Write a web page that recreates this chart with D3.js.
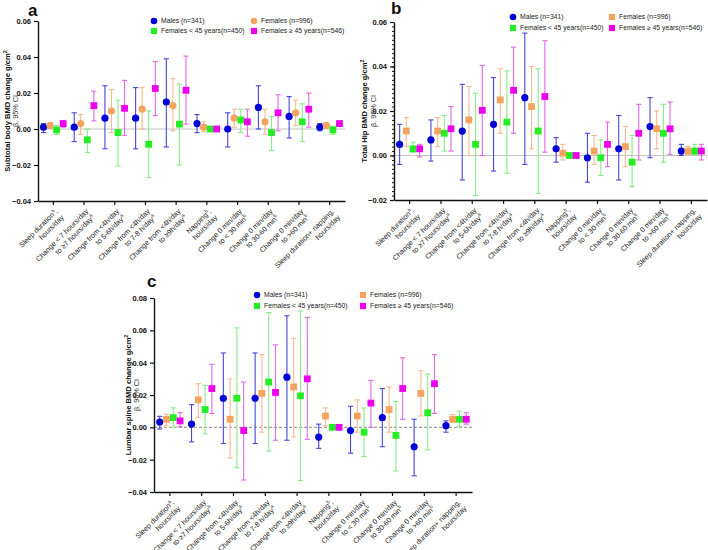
<!DOCTYPE html>
<html>
<head>
<meta charset="utf-8">
<script src="https://cdn.jsdelivr.net/npm/d3@7"></script>
<style>
  body { margin: 0; background: #fff; }
  svg { font-family: "Liberation Sans", Arial, sans-serif; }
</style>
</head>
<body>
<svg id="chart" width="708" height="550"></svg>
<script>
// tick labels, two lines each (^a / ^b = superscript)
var tickLine1 = ["Sleep duration^a,", "Change < 7 hours/day", "Change from <4h/day", "Change from <4h/day",
  "Change from <4h/day", "Napping^b,", "Change 0 min/day", "Change 0 min/day", "Change 0 min/day",
  "Sleep duration+ napping,"];
var tickLine2 = ["hours/day", "to \u22657 hours/day^a", "to 5-6h/day^a", "to 7-8 h/day^a", "to \u22659h/day^a",
  "hours/day", "to < 30 min^b", "to 30-60 min^b", "to >60 min^b", "hours/day"];

var seriesNames = ["Males (n=341)", "Females (n=996)", "Females < 45 years(n=450)", "Females \u2265 45 years(n=546)"];
var seriesColors = ["#0000d4", "#f4a460", "#26ec26", "#ec00ec"];
var barColors = ["#4646dc", "#f3bb8c", "#86ec86", "#e268e2"];

// [estimate, lower CI, upper CI] per category
var subtotalMales = [[0.001,-0.002,0.003],[0.001,-0.007,0.009],[0.006,-0.011,0.024],[0.006,-0.011,0.023],[0.015,-0.010,0.039],
  [0.003,-0.002,0.008],[0.000,-0.010,0.009],[0.012,0.000,0.024],[0.007,-0.005,0.018],[0.001,-0.001,0.003]];
var subtotalFemales = [[0.002,0.0005,0.0035],[0.003,-0.003,0.008],[0.010,-0.002,0.022],[0.011,0.000,0.023],[0.013,-0.001,0.028],
  [0.001,-0.0015,0.004],[0.006,0.001,0.011],[0.004,-0.003,0.011],[0.009,0.002,0.016],[0.002,0.0008,0.003]];
var subtotalYoung = [[-0.0005,-0.003,0.002],[-0.006,-0.013,0.000],[-0.002,-0.0205,0.016],[-0.0085,-0.027,0.010],[0.0027,-0.020,0.025],
  [0.000,-0.0005,0.0005],[0.005,-0.002,0.011],[-0.002,-0.012,0.007],[0.004,-0.007,0.014],[-0.0005,-0.003,0.0015]];
var subtotalOlder = [[0.003,0.001,0.0045],[0.013,0.0045,0.021],[0.0115,-0.0035,0.027],[0.0225,0.0075,0.0375],[0.0215,0.0027,0.0405],
  [0.000,-0.0005,0.0005],[0.004,-0.004,0.011],[0.009,-0.001,0.019],[0.011,0.001,0.020],[0.003,0.0015,0.0045]];

var hipMales = [[0.005,-0.004,0.014],[0.007,-0.0025,0.016],[0.011,-0.011,0.032],[0.014,-0.007,0.035],[0.026,-0.004,0.055],
  [0.003,-0.003,0.008],[-0.001,-0.012,0.010],[0.003,-0.011,0.018],[0.013,-0.001,0.026],[0.002,0.000,0.005]];
var hipFemales = [[0.011,0.004,0.017],[0.011,0.004,0.017],[0.016,0.000,0.031],[0.025,0.010,0.039],[0.022,0.003,0.040],
  [0.001,-0.002,0.005],[0.002,-0.004,0.009],[0.004,-0.005,0.013],[0.012,0.003,0.020],[0.002,0.0005,0.004]];
var hipYoung = [[0.003,0.0015,0.006],[0.010,0.002,0.018],[0.005,-0.018,0.028],[0.015,-0.008,0.038],[0.011,-0.017,0.039],
  [0.000,-0.0005,0.0005],[-0.001,-0.009,0.007],[-0.003,-0.014,0.009],[0.010,-0.003,0.023],[0.002,0.0005,0.005]];
var hipOlder = [[0.003,-0.0006,0.005],[0.012,0.002,0.022],[0.0203,0.000,0.0405],[0.0293,0.010,0.0487],[0.0265,0.0015,0.0516],
  [0.000,-0.0005,0.0005],[0.005,-0.005,0.015],[0.010,-0.002,0.023],[0.012,0.0005,0.024],[0.002,-0.002,0.005]];

var spineMales = [[0.0033,-0.001,0.0068],[0.002,-0.009,0.014],[0.018,-0.010,0.046],[0.018,-0.010,0.046],[0.031,-0.008,0.069],
  [-0.006,-0.013,0.002],[-0.002,-0.016,0.013],[0.006,-0.012,0.024],[-0.012,-0.030,0.005],[0.001,-0.003,0.004]];
var spineFemales = [[0.005,0.001,0.008],[0.017,0.006,0.027],[0.005,-0.019,0.030],[0.021,-0.003,0.045],[0.025,-0.006,0.055],
  [0.007,0.001,0.012],[0.007,-0.003,0.017],[0.011,-0.003,0.025],[0.021,0.007,0.035],[0.005,0.003,0.008]];
var spineYoung = [[0.006,0.000,0.012],[0.011,-0.004,0.026],[0.018,-0.025,0.0615],[0.028,-0.0146,0.071],[0.0195,-0.033,0.072],
  [0.000,-0.0005,0.0005],[-0.003,-0.018,0.012],[-0.005,-0.027,0.016],[0.009,-0.014,0.033],[0.005,0.0004,0.010]];
var spineOlder = [[0.004,0.0004,0.009],[0.024,0.0086,0.039],[-0.002,-0.0326,0.028],[0.0216,-0.008,0.051],[0.030,-0.0074,0.068],
  [0.000,-0.0005,0.0005],[0.015,0.000,0.029],[0.024,0.005,0.043],[0.027,0.0086,0.045],[0.005,0.002,0.009]];

var subtotalTicks = [-0.04, -0.02, 0, 0.02, 0.04, 0.06];
var hipTicks = [-0.02, 0, 0.02, 0.04, 0.06];
var spineTicks = [-0.04, -0.02, 0, 0.02, 0.04, 0.06, 0.08];

var svg = d3.select("#chart");

// text with ^x superscripts
function richText(sel, str) {
  var parts = str.split(/\^([ab2])/);
  parts.forEach(function(p, i) {
    if (!p) return;
    if (i % 2 === 1) sel.append("tspan").attr("baseline-shift", "super").attr("font-size", "70%").text(p);
    else sel.append("tspan").text(p);
  });
}

function drawPanel(p) {
  var g = svg.append("g");
  var cats = d3.range(tickLine1.length);

  var x = d3.scaleBand().domain(cats).range([p.left, p.right]);
  var y = d3.scaleLinear().domain(p.domain).range([p.bottom, p.top]);
  var off = d3.scalePoint().domain([0, 1, 2, 3]).range([-x.step() * 0.32, x.step() * 0.32]);

  // zero line
  g.append("line")
      .attr("x1", p.left).attr("x2", p.right)
      .attr("y1", y(0)).attr("y2", y(0))
      .attr("stroke", p.zeroDash ? "#8a8a8a" : "#c4c4c4")
      .attr("stroke-width", 1)
      .attr("stroke-dasharray", p.zeroDash ? "3,2" : null);

  // y axis
  var yAxis = g.append("g")
      .attr("transform", "translate(" + p.left + ",0)")
      .call(d3.axisLeft(y).tickValues(p.ticks).tickFormat(d3.format(".2f")).tickSize(4).tickSizeOuter(0));
  yAxis.select(".domain").attr("stroke", "#111").attr("stroke-width", 1.4);
  yAxis.selectAll(".tick line").attr("stroke", "#111").attr("stroke-width", 1.2);
  yAxis.selectAll("text").attr("font-size", 7.5).attr("font-weight", "bold").attr("fill", "#111");

  if (p.minor) {
    g.append("g")
        .attr("transform", "translate(" + p.left + ",0)")
        .call(d3.axisLeft(y).tickValues(d3.range(p.domain[0], p.domain[1] + 1e-9, p.minor)).tickFormat("").tickSize(2).tickSizeOuter(0))
        .call(function(s) { s.select(".domain").remove(); s.selectAll("line").attr("stroke", "#111"); });
  }

  // x axis
  var xAxis = g.append("g")
      .attr("transform", "translate(0," + p.bottom + ")")
      .call(d3.axisBottom(x).tickFormat("").tickSize(4).tickSizeOuter(0));
  xAxis.select(".domain").attr("stroke", "#111").attr("stroke-width", 1.4);
  xAxis.selectAll(".tick line").attr("stroke", "#111").attr("stroke-width", 1.2);

  // rotated two-line category labels
  var lab = g.selectAll(".catlab")
      .data(cats)
    .enter().append("g")
      .attr("class", "catlab")
      .attr("transform", function(d) { return "translate(" + (x(d) + x.bandwidth() / 2 + 1) + "," + (p.bottom + 7) + ") rotate(-45)"; });
  lab.each(function(d) {
    var t1 = d3.select(this).append("text").attr("text-anchor", "end").attr("dy", "0.75em")
        .attr("font-size", 7.2).attr("fill", "#222");
    richText(t1, tickLine1[d]);
    var t2 = d3.select(this).append("text").attr("text-anchor", "end").attr("dy", "1.95em")
        .attr("font-size", 7.2).attr("fill", "#222");
    richText(t2, tickLine2[d]);
  });

  // error bars and markers
  p.series.forEach(function(data, j) {
    var sg = g.append("g");
    var cx = function(d, i) { return x(i) + x.bandwidth() / 2 + off(j); };
    var bars = sg.selectAll(".bar").data(data).enter().append("g")
        .attr("stroke", barColors[j]).attr("stroke-width", 1.1);
    bars.append("line")
        .attr("x1", cx).attr("x2", cx)
        .attr("y1", function(d) { return y(d[1]); })
        .attr("y2", function(d) { return y(d[2]); });
    bars.append("line")
        .attr("x1", function(d, i) { return cx(d, i) - 2.6; })
        .attr("x2", function(d, i) { return cx(d, i) + 2.6; })
        .attr("y1", function(d) { return y(d[1]); })
        .attr("y2", function(d) { return y(d[1]); });
    bars.append("line")
        .attr("x1", function(d, i) { return cx(d, i) - 2.6; })
        .attr("x2", function(d, i) { return cx(d, i) + 2.6; })
        .attr("y1", function(d) { return y(d[2]); })
        .attr("y2", function(d) { return y(d[2]); });

    if (p.shapes[j] === "circle") {
      sg.selectAll(".pt").data(data).enter().append("circle")
          .attr("cx", cx)
          .attr("cy", function(d) { return y(d[0]); })
          .attr("r", 3.6)
          .attr("fill", seriesColors[j]);
    } else {
      sg.selectAll(".pt").data(data).enter().append("rect")
          .attr("x", function(d, i) { return cx(d, i) - 3.4; })
          .attr("y", function(d) { return y(d[0]) - 3.4; })
          .attr("width", 6.8).attr("height", 6.8)
          .attr("fill", seriesColors[j]);
    }
  });

  // y label
  var yl = g.append("g").attr("transform", "translate(" + p.ylabX + "," + ((p.top + p.bottom) / 2) + ") rotate(-90)");
  var yt = yl.append("text").attr("text-anchor", "middle").attr("font-size", 7.6).attr("font-weight", "bold").attr("fill", "#111");
  richText(yt, p.ylab);
  yl.append("text").attr("text-anchor", "middle").attr("y", 8.5).attr("font-size", 7.3).attr("fill", "#333")
      .text("\u03b2, 95% CI");

  // panel letter
  g.append("text").attr("x", p.letter[1]).attr("y", p.letter[2])
      .attr("font-size", 17).attr("font-weight", "bold").attr("fill", "#111").text(p.letter[0]);

  // legend
  seriesNames.forEach(function(name, j) {
    var lx = p.legX[j % 2], ly = p.legY[Math.floor(j / 2)];
    if (p.shapes[j] === "circle") {
      g.append("circle").attr("cx", lx).attr("cy", ly).attr("r", 3.3).attr("fill", seriesColors[j]);
    } else {
      g.append("rect").attr("x", lx - 3.1).attr("y", ly - 3.1).attr("width", 6.2).attr("height", 6.2).attr("fill", seriesColors[j]);
    }
    g.append("text").attr("x", lx + 7).attr("y", ly).attr("dy", "0.35em")
        .attr("font-size", 6.8).attr("fill", "#222").text(name);
  });
}

drawPanel({
  left: 38, right: 345, top: 21, bottom: 201, domain: [-0.04, 0.06], ticks: subtotalTicks,
  series: [subtotalMales, subtotalFemales, subtotalYoung, subtotalOlder],
  shapes: ["circle", "circle", "square", "square"],
  ylab: "Subtotal body BMD change g/cm^2", ylabX: 9.5,
  letter: ["a", 28, 16], legX: [154, 254], legY: [21, 31]
});

drawPanel({
  left: 394, right: 707, top: 22, bottom: 200, domain: [-0.02, 0.06], ticks: hipTicks, minor: 0.002,
  series: [hipMales, hipFemales, hipYoung, hipOlder],
  shapes: ["circle", "square", "square", "square"],
  ylab: "Total Hip BMD change g/cm^2", ylabX: 367,
  letter: ["b", 391, 14], legX: [513, 612], legY: [17, 28]
});

drawPanel({
  left: 154, right: 472, top: 298, bottom: 492, domain: [-0.04, 0.08], ticks: spineTicks, zeroDash: true,
  series: [spineMales, spineFemales, spineYoung, spineOlder],
  shapes: ["circle", "square", "square", "square"],
  ylab: "Lumbar spine BMD change g/cm^2", ylabX: 130.5,
  letter: ["c", 147, 287], legX: [257, 363], legY: [295, 306]
});
</script>
</body>
</html>
